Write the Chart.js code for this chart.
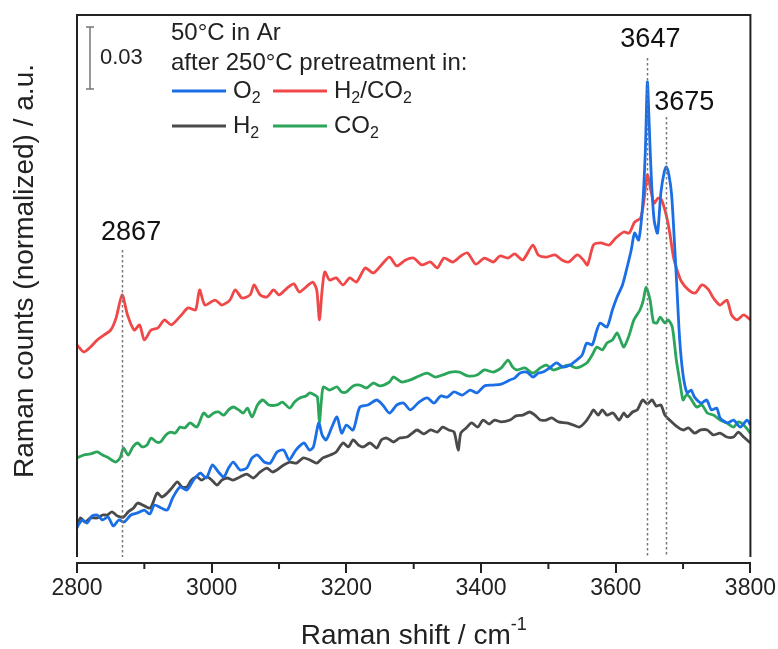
<!DOCTYPE html>
<html lang="en">
<head>
    <meta charset="UTF-8">
    <title>Raman spectra after pretreatment</title>
    <script src="https://cdn.jsdelivr.net/npm/chart.js"></script>
    <style>
        body { margin: 0; background: #fff; }
    </style>
</head>
<body>
    <canvas id="ramanChart" width="778" height="649"></canvas>

    <script>
        // Raman shift (cm-1) and normalized counts
        const o2Shift = [2800,2808,2815,2822,2830,2838,2846,2854,2862,2870,2880,2890,2900,2908,2915,2925,2934,2942,2953,2963,2973,2983,2992,3001,3010,3018,3025,3032,3042,3052,3060,3068,3078,3087,3097,3107,3115,3125,3137,3145,3151,3159,3164,3170,3178,3186,3193,3200,3210,3220,3232,3245,3254,3264,3275,3285,3295,3308,3320,3330,3340,3350,3360,3372,3384,3394,3405,3418,3430,3443,3450,3458,3468,3477,3485,3492,3502,3512,3522,3532,3542,3550,3557,3565,3572,3577,3587,3595,3602,3610,3617,3623,3628,3634,3640,3644,3647,3650,3653,3657,3662,3667,3672,3675,3679,3683,3687,3691,3695,3700,3706,3712,3717,3727,3735,3742,3750,3755,3766,3775,3785,3795,3800];
        const o2Counts = [0.0145,0.0179,0.0164,0.0198,0.0203,0.0179,0.0193,0.0150,0.0179,0.0169,0.0203,0.0213,0.0227,0.0208,0.0251,0.0237,0.0227,0.0285,0.0338,0.0324,0.0372,0.0406,0.0382,0.0445,0.0411,0.0387,0.0430,0.0459,0.0421,0.0430,0.0479,0.0493,0.0459,0.0454,0.0508,0.0517,0.0469,0.0517,0.0551,0.0517,0.0532,0.0648,0.0590,0.0566,0.0624,0.0677,0.0599,0.0638,0.0614,0.0725,0.0735,0.0759,0.0735,0.0696,0.0735,0.0744,0.0711,0.0749,0.0769,0.0744,0.0778,0.0773,0.0798,0.0783,0.0807,0.0793,0.0827,0.0831,0.0836,0.0856,0.0865,0.0889,0.0894,0.0870,0.0889,0.0894,0.0914,0.0938,0.0918,0.0928,0.0952,0.0976,0.1034,0.1025,0.1097,0.1131,0.1112,0.1194,0.1257,0.1315,0.1402,0.1484,0.1566,0.1532,0.1702,0.1967,0.2296,0.2064,0.1822,0.1629,0.1566,0.1760,0.1861,0.1885,0.1847,0.1750,0.1532,0.1291,0.1049,0.0880,0.0793,0.0807,0.0773,0.0744,0.0759,0.0711,0.0720,0.0672,0.0648,0.0662,0.0628,0.0662,0.0638];

        const h2Shift = [2800,2805,2812,2820,2830,2838,2845,2852,2860,2869,2876,2884,2890,2900,2909,2919,2926,2934,2941,2949,2956,2963,2970,2978,2985,2993,3000,3008,3015,3023,3032,3042,3052,3062,3072,3082,3090,3097,3107,3116,3126,3136,3146,3156,3165,3176,3185,3195,3203,3210,3218,3225,3235,3245,3252,3260,3270,3279,3290,3298,3305,3315,3325,3335,3343,3352,3360,3366,3370,3378,3386,3395,3403,3412,3420,3430,3443,3452,3462,3472,3480,3488,3497,3505,3515,3527,3537,3546,3555,3562,3567,3574,3580,3587,3596,3605,3612,3617,3625,3632,3640,3647,3654,3660,3667,3673,3680,3690,3700,3708,3717,3726,3736,3745,3755,3765,3775,3782,3790,3800];
        const h2Counts = [0.0140,0.0189,0.0169,0.0189,0.0189,0.0203,0.0203,0.0218,0.0198,0.0193,0.0218,0.0237,0.0261,0.0247,0.0237,0.0309,0.0290,0.0309,0.0334,0.0363,0.0338,0.0338,0.0372,0.0387,0.0372,0.0387,0.0372,0.0348,0.0372,0.0382,0.0372,0.0387,0.0401,0.0382,0.0411,0.0430,0.0411,0.0421,0.0445,0.0459,0.0454,0.0479,0.0469,0.0454,0.0479,0.0493,0.0508,0.0551,0.0532,0.0566,0.0541,0.0532,0.0551,0.0527,0.0566,0.0575,0.0556,0.0575,0.0580,0.0599,0.0614,0.0595,0.0614,0.0604,0.0628,0.0614,0.0604,0.0517,0.0599,0.0624,0.0648,0.0628,0.0662,0.0643,0.0662,0.0653,0.0662,0.0682,0.0686,0.0701,0.0686,0.0662,0.0662,0.0672,0.0653,0.0648,0.0638,0.0628,0.0653,0.0686,0.0711,0.0686,0.0711,0.0686,0.0696,0.0662,0.0696,0.0677,0.0701,0.0711,0.0759,0.0740,0.0759,0.0730,0.0735,0.0686,0.0662,0.0633,0.0614,0.0624,0.0599,0.0614,0.0614,0.0590,0.0599,0.0580,0.0580,0.0604,0.0580,0.0551];

        const h2co2Shift = [2800,2810,2820,2830,2840,2850,2858,2867,2875,2885,2893,2900,2910,2920,2930,2940,2955,2965,2976,2982,2990,3005,3015,3027,3035,3045,3057,3063,3072,3082,3092,3100,3112,3122,3130,3140,3150,3156,3160,3164,3168,3175,3185,3195,3205,3215,3228,3240,3252,3264,3275,3288,3300,3312,3325,3335,3345,3358,3370,3380,3392,3405,3418,3428,3440,3450,3462,3477,3485,3497,3510,3520,3530,3543,3552,3558,3567,3578,3590,3600,3612,3620,3628,3637,3642,3647,3652,3657,3663,3668,3675,3680,3686,3692,3698,3708,3718,3728,3738,3745,3755,3765,3772,3780,3790,3800];
        const h2co2Counts = [0.1025,0.0991,0.1015,0.1049,0.1073,0.1097,0.1155,0.1267,0.1170,0.1097,0.1122,0.1049,0.1097,0.1107,0.1146,0.1122,0.1170,0.1204,0.1194,0.1291,0.1218,0.1242,0.1218,0.1242,0.1291,0.1252,0.1267,0.1315,0.1267,0.1257,0.1291,0.1267,0.1300,0.1320,0.1281,0.1305,0.1329,0.1291,0.1146,0.1291,0.1378,0.1339,0.1349,0.1315,0.1349,0.1329,0.1397,0.1373,0.1412,0.1450,0.1407,0.1436,0.1445,0.1412,0.1426,0.1397,0.1445,0.1426,0.1455,0.1470,0.1416,0.1445,0.1426,0.1455,0.1445,0.1465,0.1436,0.1508,0.1460,0.1450,0.1460,0.1436,0.1426,0.1460,0.1436,0.1412,0.1508,0.1518,0.1508,0.1542,0.1571,0.1566,0.1619,0.1639,0.1726,0.1847,0.1774,0.1711,0.1735,0.1726,0.1653,0.1571,0.1445,0.1378,0.1329,0.1291,0.1276,0.1315,0.1291,0.1252,0.1218,0.1242,0.1170,0.1146,0.1170,0.1146];

        const co2Shift = [2800,2810,2820,2830,2838,2845,2857,2864,2869,2876,2883,2890,2897,2904,2910,2918,2924,2932,2939,2946,2953,2960,2968,2978,2988,2995,3003,3010,3018,3025,3032,3040,3047,3053,3060,3068,3076,3085,3097,3105,3116,3123,3131,3140,3146,3153,3157,3160,3163,3166,3175,3186,3193,3200,3210,3220,3230,3240,3250,3264,3270,3282,3295,3308,3320,3332,3343,3355,3368,3380,3394,3405,3418,3430,3440,3447,3453,3465,3477,3488,3497,3507,3517,3530,3542,3557,3565,3572,3580,3587,3595,3602,3607,3612,3620,3627,3636,3641,3645,3651,3656,3661,3666,3673,3678,3684,3690,3696,3700,3705,3710,3720,3728,3736,3745,3755,3765,3775,3782,3790,3800];
        const co2Counts = [0.0479,0.0493,0.0498,0.0508,0.0493,0.0483,0.0459,0.0479,0.0527,0.0493,0.0532,0.0551,0.0532,0.0541,0.0575,0.0556,0.0556,0.0590,0.0604,0.0599,0.0628,0.0624,0.0648,0.0628,0.0696,0.0677,0.0696,0.0701,0.0686,0.0711,0.0725,0.0711,0.0696,0.0720,0.0677,0.0735,0.0759,0.0735,0.0735,0.0749,0.0720,0.0749,0.0769,0.0778,0.0793,0.0783,0.0773,0.0653,0.0759,0.0822,0.0807,0.0822,0.0798,0.0798,0.0827,0.0831,0.0817,0.0841,0.0827,0.0846,0.0870,0.0846,0.0856,0.0875,0.0889,0.0870,0.0880,0.0894,0.0894,0.0875,0.0880,0.0904,0.0894,0.0914,0.0952,0.0918,0.0904,0.0914,0.0889,0.0914,0.0928,0.0904,0.0914,0.0928,0.0914,0.0938,0.0976,0.1015,0.1001,0.1034,0.1049,0.1083,0.1049,0.1015,0.1073,0.1146,0.1194,0.1242,0.1305,0.1242,0.1136,0.1131,0.1160,0.1131,0.1146,0.1112,0.0952,0.0831,0.0759,0.0783,0.0773,0.0725,0.0735,0.0696,0.0686,0.0662,0.0648,0.0628,0.0653,0.0638,0.0599];

        const majorTicks = [2800, 3000, 3200, 3400, 3600, 3800];
        const tickLabels = ['2800', '3000', '3200', '3400', '3600', '3800'];
        const minorTicks = [2900, 3100, 3300, 3500, 3700];
        const peakMarks = [2867, 3647, 3675];
        const scaleBarSize = 0.03;

        const FONT = "'Liberation Sans', Arial, sans-serif";
        const INK = '#222';
        const colors = { o2: '#1a6ee6', h2: '#4a4a4a', h2co2: '#f04848', co2: '#2aa55a' };

        function toPoints(xs, ys) {
            return xs.map((x, i) => ({ x: x, y: ys[i] }));
        }

        function line(label, xs, ys, color) {
            return {
                label: label,
                data: toPoints(xs, ys),
                borderColor: color,
                borderWidth: 2.8,
                pointRadius: 0,
                tension: 0.25,
                fill: false
            };
        }

        // text with a lowered/raised small part, e.g. H2/CO2 or cm-1
        function drawRich(ctx, parts, x, y, size) {
            let cx = x;
            parts.forEach(p => {
                const s = p.sub || p.sup ? Math.round(size * 0.65) : size;
                const dy = p.sub ? size * 0.3 : (p.sup ? -size * 0.38 : 0);
                ctx.font = s + 'px ' + FONT;
                ctx.fillText(p.t, cx, y + dy);
                cx += ctx.measureText(p.t).width;
            });
            return cx - x;
        }

        function richWidth(ctx, parts, size) {
            let w = 0;
            parts.forEach(p => {
                const s = p.sub || p.sup ? Math.round(size * 0.65) : size;
                ctx.font = s + 'px ' + FONT;
                w += ctx.measureText(p.t).width;
            });
            return w;
        }

        const extras = {
            id: 'extras',
            afterDraw(chart) {
                const ctx = chart.ctx;
                const area = chart.chartArea;
                const xs = chart.scales.x;
                const ys = chart.scales.y;
                const spineBottom = area.bottom - 6;

                ctx.save();
                // frame (left, top, right)
                ctx.strokeStyle = INK;
                ctx.lineWidth = 2;
                ctx.beginPath();
                ctx.moveTo(area.left, spineBottom);
                ctx.lineTo(area.left, area.top);
                ctx.lineTo(area.right, area.top);
                ctx.lineTo(area.right, spineBottom);
                ctx.stroke();

                // minor ticks
                ctx.beginPath();
                minorTicks.forEach(v => {
                    const px = xs.getPixelForValue(v);
                    ctx.moveTo(px, area.bottom);
                    ctx.lineTo(px, area.bottom + 6);
                });
                ctx.stroke();

                // dotted peak markers with labels
                const markTops = [250, 58, 117];
                const labelDx = [9, 3, 18];
                const labelY = [233, 40, 103];
                ctx.strokeStyle = '#777';
                ctx.lineWidth = 1.5;
                ctx.setLineDash([2.5, 2.5]);
                peakMarks.forEach((v, i) => {
                    const px = Math.round(xs.getPixelForValue(v)) + 0.5;
                    ctx.beginPath();
                    ctx.moveTo(px, markTops[i]);
                    ctx.lineTo(px, spineBottom);
                    ctx.stroke();
                });
                ctx.setLineDash([]);
                ctx.fillStyle = '#111';
                ctx.textAlign = 'center';
                ctx.textBaseline = 'middle';
                ctx.font = '27px ' + FONT;
                peakMarks.forEach((v, i) => {
                    ctx.fillText(String(v), xs.getPixelForValue(v) + labelDx[i], labelY[i]);
                });

                // scale bar
                const barBase = 0.2262;
                const yb = ys.getPixelForValue(barBase);
                const yt = ys.getPixelForValue(barBase + scaleBarSize);
                ctx.strokeStyle = '#777';
                ctx.lineWidth = 1.5;
                ctx.beginPath();
                ctx.moveTo(90, yb); ctx.lineTo(90, yt);
                ctx.moveTo(86, yb); ctx.lineTo(94, yb);
                ctx.moveTo(86, yt); ctx.lineTo(94, yt);
                ctx.stroke();
                ctx.textAlign = 'left';
                ctx.fillStyle = INK;
                ctx.font = '22px ' + FONT;
                ctx.fillText(String(scaleBarSize), 100, (yb + yt) / 2);

                // legend
                ctx.font = '24px ' + FONT;
                ctx.fillText('50°C in Ar', 171, 33);
                ctx.fillText('after 250°C pretreatment in:', 171, 63);
                const entries = [
                    { c: colors.o2, x: 172, y: 91, parts: [{ t: 'O' }, { t: '2', sub: true }] },
                    { c: colors.h2co2, x: 273, y: 91, parts: [{ t: 'H' }, { t: '2', sub: true }, { t: '/CO' }, { t: '2', sub: true }] },
                    { c: colors.h2, x: 172, y: 126, parts: [{ t: 'H' }, { t: '2', sub: true }] },
                    { c: colors.co2, x: 273, y: 126, parts: [{ t: 'CO' }, { t: '2', sub: true }] }
                ];
                entries.forEach(e => {
                    ctx.strokeStyle = e.c;
                    ctx.lineWidth = 3;
                    ctx.beginPath();
                    ctx.moveTo(e.x, e.y);
                    ctx.lineTo(e.x + 54, e.y);
                    ctx.stroke();
                    ctx.fillStyle = INK;
                    drawRich(ctx, e.parts, e.x + 61, e.y, 24);
                });

                // axis titles
                const xTitle = [{ t: 'Raman shift / cm' }, { t: '-1', sup: true }];
                const w = richWidth(ctx, xTitle, 28);
                drawRich(ctx, xTitle, (area.left + area.right) / 2 - w / 2, 636, 28);

                ctx.translate(25, 271);
                ctx.rotate(-Math.PI / 2);
                ctx.textAlign = 'center';
                ctx.font = '28px ' + FONT;
                ctx.fillText('Raman counts (normalized) / a.u.', 0, 0);
                ctx.restore();
            }
        };

        const ctx = document.getElementById('ramanChart').getContext('2d');
        new Chart(ctx, {
            type: 'line',
            data: {
                datasets: [
                    line('O2', o2Shift, o2Counts, colors.o2),
                    line('H2', h2Shift, h2Counts, colors.h2),
                    line('H2/CO2', h2co2Shift, h2co2Counts, colors.h2co2),
                    line('CO2', co2Shift, co2Counts, colors.co2)
                ]
            },
            options: {
                responsive: false,
                animation: false,
                layout: { padding: { top: 15, right: 27, left: 0, bottom: 0 } },
                plugins: {
                    legend: { display: false },
                    tooltip: { enabled: false }
                },
                scales: {
                    x: {
                        type: 'linear',
                        min: 2800,
                        max: 3800,
                        afterFit: s => { s.height = 86; },
                        afterBuildTicks: s => { s.ticks = majorTicks.map(v => ({ value: v })); },
                        ticks: {
                            callback: (v) => tickLabels[majorTicks.indexOf(v)],
                            font: { family: FONT, size: 23 },
                            color: INK,
                            padding: 2,
                            maxRotation: 0
                        },
                        grid: { drawOnChartArea: false, tickLength: 10, color: INK, lineWidth: 2 },
                        border: { display: true, color: INK, width: 2 }
                    },
                    y: {
                        min: -0.0029,
                        max: 0.262,
                        afterFit: s => { s.width = 77; },
                        ticks: { display: false },
                        grid: { display: false },
                        border: { display: false }
                    }
                }
            },
            plugins: [extras]
        });
    </script>
</body>
</html>
